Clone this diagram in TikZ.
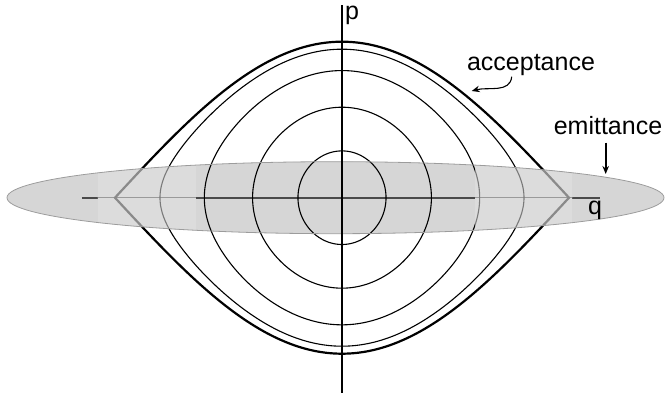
\documentclass[tikz,border=0pt]{standalone}
\usepackage{fontspec}
\setmainfont{Liberation Sans}
\usetikzlibrary{arrows.meta}
\definecolor{ellfill}{HTML}{D6D6D6}
\definecolor{ellpatch}{HTML}{DCDCDC}
\definecolor{ellborder}{HTML}{9C9C9C}
\definecolor{haxis}{HTML}{4A4A4A}
\definecolor{haxislight}{HTML}{9A9A9A}
\definecolor{seplight}{HTML}{8A8A8A}
\definecolor{orblight}{HTML}{7A7A7A}
\begin{document}
\begin{tikzpicture}[x=1pt,y=1pt,
  orbit/.style={line width=1.1pt},
  septx/.style={line width=2.2pt, line join=miter},
  lbl/.style={inner sep=0pt, font=\fontsize{25}{30}\selectfont},
  conn/.style={-{Stealth[length=8pt,width=6.5pt]}}]
\useasboundingbox (-342,-195.3) rectangle (324,197.7);
% emittance ellipse
\fill[ellfill] (-6.5,0) ellipse [x radius=328.5pt, y radius=36pt];
% horizontal axis
\draw[haxis, line width=1.8pt] (-260,0) coordinate (qL) -- (258,0) coordinate (qR);
% orbits
\foreach \k in {0.30,0.58,0.815,0.952}
  \draw[orbit] plot[domain=0:360,samples=241,smooth] ({2.5222*asin(\k*sin(\x))},{156*\k*cos(\x)});
% separatrix (acceptance)
\draw[septx] plot[domain=-90:90,samples=181] ({2.5222*\x},{156*cos(\x)})
  -- plot[domain=90:-90,samples=181] ({2.5222*\x},{-156*cos(\x)}) -- cycle;
% lighter patches of the ellipse
\begin{scope}
  \clip (-6.5,0) ellipse [x radius=328.5pt, y radius=36pt];
  \clip (-244,-40) rectangle (-146,40) (133,-40) rectangle (230,40);
  \fill[ellpatch] (-6.5,0) ellipse [x radius=328.5pt, y radius=36pt];
  \draw[haxislight, line width=1.4pt] (-260,0) -- (258,0);
  \foreach \k in {0.30,0.58,0.815,0.952}
    \draw[orblight, orbit] plot[domain=0:360,samples=241,smooth] ({2.5222*asin(\k*sin(\x))},{156*\k*cos(\x)});
  \draw[seplight, septx] plot[domain=-90:90,samples=181] ({2.5222*\x},{156*cos(\x)})
    -- plot[domain=90:-90,samples=181] ({2.5222*\x},{-156*cos(\x)}) -- cycle;
\end{scope}
\draw[ellborder, line width=0.8pt] (-6.5,0) ellipse [x radius=328.5pt, y radius=36pt];
% vertical axis
\draw[line width=1.8pt] (0,-195.3) coordinate (pB) -- (0,192.7) coordinate (pT);
% labels
\node[lbl, anchor=base west] (plabel) at (3,178.6) {p};
\node[lbl, anchor=base west] (qlabel) at (246,-17.3) {q};
\node[lbl, anchor=base] (acc) at (189,126.7) {acceptance};
\node[lbl, anchor=base] (emi) at (266,62.7) {emittance};
% arrows
\coordinate (accS) at (169.7,121);
\coordinate (accE) at (129.7,106.7);
\draw[conn, line width=1.1pt] (accS) to[out=-95,in=15] (accE);
\coordinate (emiS) at (263.7,55);
\coordinate (emiE) at (263.7,23.7);
\draw[conn, line width=1.6pt] (emiS) -- (emiE);
\end{tikzpicture}
\end{document}
